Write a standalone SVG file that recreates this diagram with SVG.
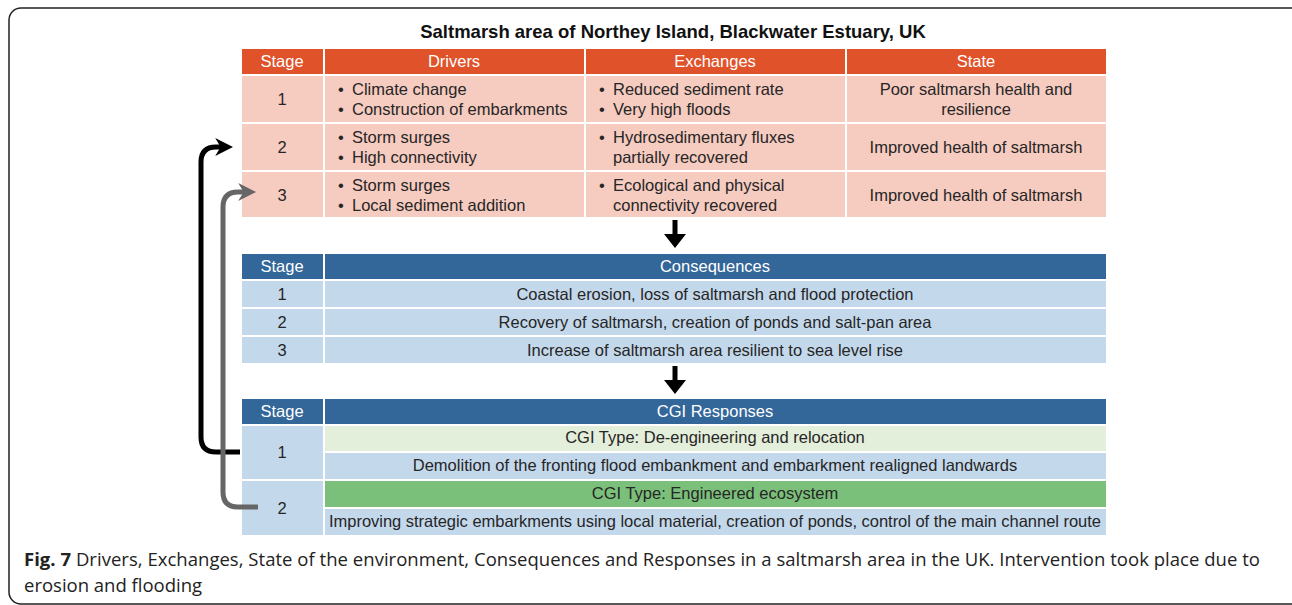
<svg xmlns="http://www.w3.org/2000/svg" width="1292" height="605" viewBox="0 0 1292 605">
<defs>
<style>
.t{font-family:"Liberation Sans",Arial,sans-serif;font-size:16.5px;fill:#262626}
.h{font-family:"Liberation Sans",Arial,sans-serif;font-size:16.5px;fill:#ffffff}
.c{text-anchor:middle}
.oh{fill:#E0522A;stroke:#fff;stroke-width:2}
.pk{fill:#F6CBC0;stroke:#fff;stroke-width:2}
.bh{fill:#336699;stroke:#fff;stroke-width:2}
.lb{fill:#C4D8EC;stroke:#fff;stroke-width:2}
.lg{fill:#E3EEDB;stroke:#fff;stroke-width:2}
.gg{fill:#7BC07A;stroke:#fff;stroke-width:2}
.cap{font-family:"Open Sans","Noto Sans",sans-serif;font-size:18.5px;fill:#222}
</style>
<marker id="ab" viewBox="0 0 10 10" refX="6" refY="5" markerWidth="3.6" markerHeight="3.6" orient="auto" markerUnits="strokeWidth"><path d="M0,0 L10,5 L0,10 L3,5 Z" fill="#000"/></marker>
<marker id="ag" viewBox="0 0 10 10" refX="6" refY="5" markerWidth="3.6" markerHeight="3.6" orient="auto" markerUnits="strokeWidth"><path d="M0,0 L10,5 L0,10 L3,5 Z" fill="#666"/></marker>
</defs>
<rect x="0" y="0" width="1292" height="605" fill="#fff"/>
<rect x="9" y="8" width="1300" height="596" rx="12" fill="none" stroke="#222" stroke-width="1.5"/>
<text x="673" y="38" text-anchor="middle" style="font-family:'Liberation Sans',Arial,sans-serif;font-size:18.5px;font-weight:bold;fill:#111">Saltmarsh area of Northey Island, Blackwater Estuary, UK</text>

<g id="table-dse">
<rect class="oh" x="241" y="48" width="83" height="27"/>
<rect class="oh" x="324" y="48" width="261" height="27"/>
<rect class="oh" x="585" y="48" width="261" height="27"/>
<rect class="oh" x="846" y="48" width="261" height="27"/>
<text class="h c" x="282" y="67">Stage</text>
<text class="h c" x="454" y="67">Drivers</text>
<text class="h c" x="715" y="67">Exchanges</text>
<text class="h c" x="976" y="67">State</text>
<rect class="pk" x="241" y="75" width="83" height="48"/>
<rect class="pk" x="324" y="75" width="261" height="48"/>
<rect class="pk" x="585" y="75" width="261" height="48"/>
<rect class="pk" x="846" y="75" width="261" height="48"/>
<rect class="pk" x="241" y="123" width="83" height="48"/>
<rect class="pk" x="324" y="123" width="261" height="48"/>
<rect class="pk" x="585" y="123" width="261" height="48"/>
<rect class="pk" x="846" y="123" width="261" height="48"/>
<rect class="pk" x="241" y="171" width="83" height="47"/>
<rect class="pk" x="324" y="171" width="261" height="47"/>
<rect class="pk" x="585" y="171" width="261" height="47"/>
<rect class="pk" x="846" y="171" width="261" height="47"/>
<text class="t c" x="282" y="105">1</text>
<text class="t c" x="282" y="153">2</text>
<text class="t c" x="282" y="201">3</text>
<text class="t" x="338" y="95">•<tspan x="352">Climate change</tspan></text>
<text class="t" x="338" y="115">•<tspan x="352">Construction of embarkments</tspan></text>
<text class="t" x="338" y="143">•<tspan x="352">Storm surges</tspan></text>
<text class="t" x="338" y="163">•<tspan x="352">High connectivity</tspan></text>
<text class="t" x="338" y="191">•<tspan x="352">Storm surges</tspan></text>
<text class="t" x="338" y="211">•<tspan x="352">Local sediment addition</tspan></text>
<text class="t" x="599" y="95">•<tspan x="613">Reduced sediment rate</tspan></text>
<text class="t" x="599" y="115">•<tspan x="613">Very high floods</tspan></text>
<text class="t" x="599" y="143">•<tspan x="613">Hydrosedimentary fluxes</tspan></text>
<text class="t" x="613" y="163">partially recovered</text>
<text class="t" x="599" y="191">•<tspan x="613">Ecological and physical</tspan></text>
<text class="t" x="613" y="211">connectivity recovered</text>
<text class="t c" x="976" y="95">Poor saltmarsh health and</text>
<text class="t c" x="976" y="115">resilience</text>
<text class="t c" x="976" y="153">Improved health of saltmarsh</text>
<text class="t c" x="976" y="201">Improved health of saltmarsh</text>
</g>

<g id="table-consequences">
<rect class="bh" x="241" y="253" width="83" height="27"/>
<rect class="bh" x="324" y="253" width="783" height="27"/>
<text class="h c" x="282" y="272">Stage</text>
<text class="h c" x="715" y="272">Consequences</text>
<rect class="lb" x="241" y="280" width="83" height="28"/>
<rect class="lb" x="324" y="280" width="783" height="28"/>
<rect class="lb" x="241" y="308" width="83" height="28"/>
<rect class="lb" x="324" y="308" width="783" height="28"/>
<rect class="lb" x="241" y="336" width="83" height="28"/>
<rect class="lb" x="324" y="336" width="783" height="28"/>
<text class="t c" x="282" y="300">1</text>
<text class="t c" x="715" y="300">Coastal erosion, loss of saltmarsh and flood protection</text>
<text class="t c" x="282" y="328">2</text>
<text class="t c" x="715" y="328">Recovery of saltmarsh, creation of ponds and salt-pan area</text>
<text class="t c" x="282" y="356">3</text>
<text class="t c" x="715" y="356">Increase of saltmarsh area resilient to sea level rise</text>
</g>

<g id="table-responses">
<rect class="bh" x="241" y="398" width="83" height="27"/>
<rect class="bh" x="324" y="398" width="783" height="27"/>
<text class="h c" x="282" y="417">Stage</text>
<text class="h c" x="715" y="417">CGI Responses</text>
<rect class="lb" x="241" y="425" width="83" height="55"/>
<rect class="lg" x="324" y="425" width="783" height="27"/>
<rect class="lb" x="324" y="452" width="783" height="28"/>
<rect class="lb" x="241" y="480" width="83" height="56"/>
<rect class="gg" x="324" y="480" width="783" height="28"/>
<rect class="lb" x="324" y="508" width="783" height="28"/>
<text class="t c" x="282" y="458">1</text>
<text class="t c" x="715" y="443">CGI Type: De-engineering and relocation</text>
<text class="t c" x="715" y="471">Demolition of the fronting flood embankment and embarkment realigned landwards</text>
<text class="t c" x="282" y="514">2</text>
<text class="t c" x="715" y="499">CGI Type: Engineered ecosystem</text>
<text class="t c" x="715" y="527" textLength="772" lengthAdjust="spacing">Improving strategic embarkments using local material, creation of ponds, control of the main channel route</text>
</g>

<g id="connectors" fill="none">
<path d="M675,220 V236" stroke="#000" stroke-width="5"/>
<path d="M664,234 L686,234 L675,248 Z" fill="#000"/>
<path d="M675,366 V382" stroke="#000" stroke-width="5"/>
<path d="M664,380 L686,380 L675,394 Z" fill="#000"/>
<path d="M240,452 H216 Q201,452 201,437 V162 Q201,147 216,147 H226" stroke="#000" stroke-width="5" marker-end="url(#ab)"/>
<path d="M258,507 H238 Q223,507 223,492 V207 Q223,192 238,192 H249" stroke="#666" stroke-width="5" marker-end="url(#ag)"/>
</g>

<g id="caption">
<text class="cap" x="24" y="566" textLength="1236" lengthAdjust="spacing"><tspan font-weight="bold">Fig. 7</tspan> Drivers, Exchanges, State of the environment, Consequences and Responses in a saltmarsh area in the UK. Intervention took place due to</text>
<text class="cap" x="24" y="592">erosion and flooding</text>
</g>
</svg>
